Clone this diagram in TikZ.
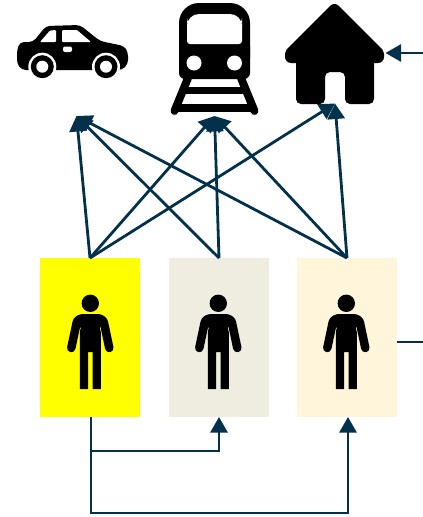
\documentclass[tikz,border=0pt]{standalone}
\usetikzlibrary{arrows.meta}
\definecolor{navy}{HTML}{03304B}
\definecolor{boxa}{HTML}{FFFF00}
\definecolor{boxb}{HTML}{EFEDE0}
\definecolor{boxc}{HTML}{FFF5DA}
\tikzset{
  personbox/.style={minimum width=100pt,minimum height=159pt,inner sep=0pt,outer sep=0pt,draw=none},
  link/.style={draw=navy,line width=2.8pt,line join=miter},
  linktip/.style={link,-{Triangle[length=15.5pt,width=17pt,fill=navy]}},
  person/.pic={
    \fill[black] (0,303.3) circle (8.7);
    \fill[black] (-10.5,389) -- (-10.5,332) -- (-9.5,328) -- (-17,319.5) .. controls (-15,316) and (-11,314) .. (-7,314) -- (7,314) .. controls (11,314) and (15,316) .. (17,319.5) -- (9.5,328) -- (10.5,332) -- (10.5,389) -- (2.2,389) -- (2.2,352) -- (-2.2,352) -- (-2.2,389) -- cycle;
    \draw[black,line width=8.5pt,line cap=round] (-13.5,322) -- (-19,348);
    \draw[black,line width=8.5pt,line cap=round] (13.5,322) -- (19,348);
  }
}
\begin{document}
\begin{tikzpicture}[x=1pt,y=-1pt]
\useasboundingbox (0,0) rectangle (423,517);
% boxes
\node[personbox,fill=boxa] (a) at (90,337.5) {};
\node[personbox,fill=boxb] (b) at (219,337.5) {};
\node[personbox,fill=boxc] (c) at (347,337.5) {};
\pic at (90.3,0) {person};
\pic at (218.3,0) {person};
\pic at (346.3,0) {person};
% car
\fill[black,rounded corners=4pt] (17,50) -- (20,42) -- (33,42) -- (46,26) -- (80,25) -- (100,41) -- (124,46) -- (128,52) -- (128,64) -- (122,70) -- (22,70) -- (17,64) -- cycle;
\fill[white] (42.3,66.7) circle (14);
\fill[white] (106,66.7) circle (14);
\fill[white] (25,70.5) rectangle (122,80);
\fill[black] (42.3,66.7) circle (11.5);
\fill[black] (106,66.7) circle (11.5);
\fill[white] (42.3,66.7) circle (6);
\fill[white] (106,66.7) circle (6);
\fill[white,rounded corners=1pt] (40,42) -- (50,30.5) -- (56,30) -- (56,42) -- cycle;
\fill[white,rounded corners=1pt] (62,42) -- (62,30) -- (77,30) -- (91,42) -- cycle;
\fill[white,rounded corners=2pt] (63,46.5) rectangle (72,52);
% train
\fill[black,rounded corners=20pt] (179,78) -- (179,3) -- (250,3) -- (250,78) -- cycle;
\fill[black,rounded corners=6pt] (179,40) rectangle (250,79);
\fill[white,rounded corners=12pt] (187,30) -- (187,14) -- (242,14) -- (242,30) -- cycle;
\fill[white,rounded corners=3pt] (187,22) rectangle (242,44);
\fill[white] (194,63) circle (7.5);
\fill[white] (234.5,63) circle (7.5);
\draw[black,line width=8pt,line cap=round] (188,78) -- (174.5,111);
\draw[black,line width=8pt,line cap=round] (241,78) -- (254.5,111);
\draw[black,line width=7pt] (185,90.5) -- (244,90.5);
\draw[black,line width=8pt] (174.5,108) -- (254.5,108);
% house
\fill[black,draw=black,line width=12pt,line join=round] (334.5,10) -- (291,53.5) -- (291,57) -- (378,57) -- (378,53.5) -- cycle;
\fill[black,rounded corners=5pt] (296,55) -- (296,104) -- (325,104) -- (325,72) -- (345,72) -- (345,104) -- (374,104) -- (374,55) -- cycle;
\coordinate (cartip) at (76.5,116);
\coordinate (traintip) at (214.5,116);
\coordinate (housetip) at (335,103.5);
\coordinate (houseright) at (385.5,53);
\coordinate (rightin) at (423,53);
\coordinate (rightout) at (423,342);
\coordinate (cstub) at (397,342);
% connectors
\foreach \src in {a,b,c}{
  \draw[linktip] (\src.north) -- (cartip);
  \draw[linktip] (\src.north) -- (traintip);
}
\draw[linktip] (a.north) -- (housetip);
\draw[linktip] (c.north) -- (housetip);
\draw[linktip] (rightin) -- (houseright);
\draw[link] (cstub) -- (rightout);
\draw[linktip] (a.south) ++(1,0) |- ++(0,34) -| (b.south);
\draw[linktip] (a.south) ++(1,0) |- ++(0,96) -| ([xshift=1pt]c.south);
\end{tikzpicture}
\end{document}
